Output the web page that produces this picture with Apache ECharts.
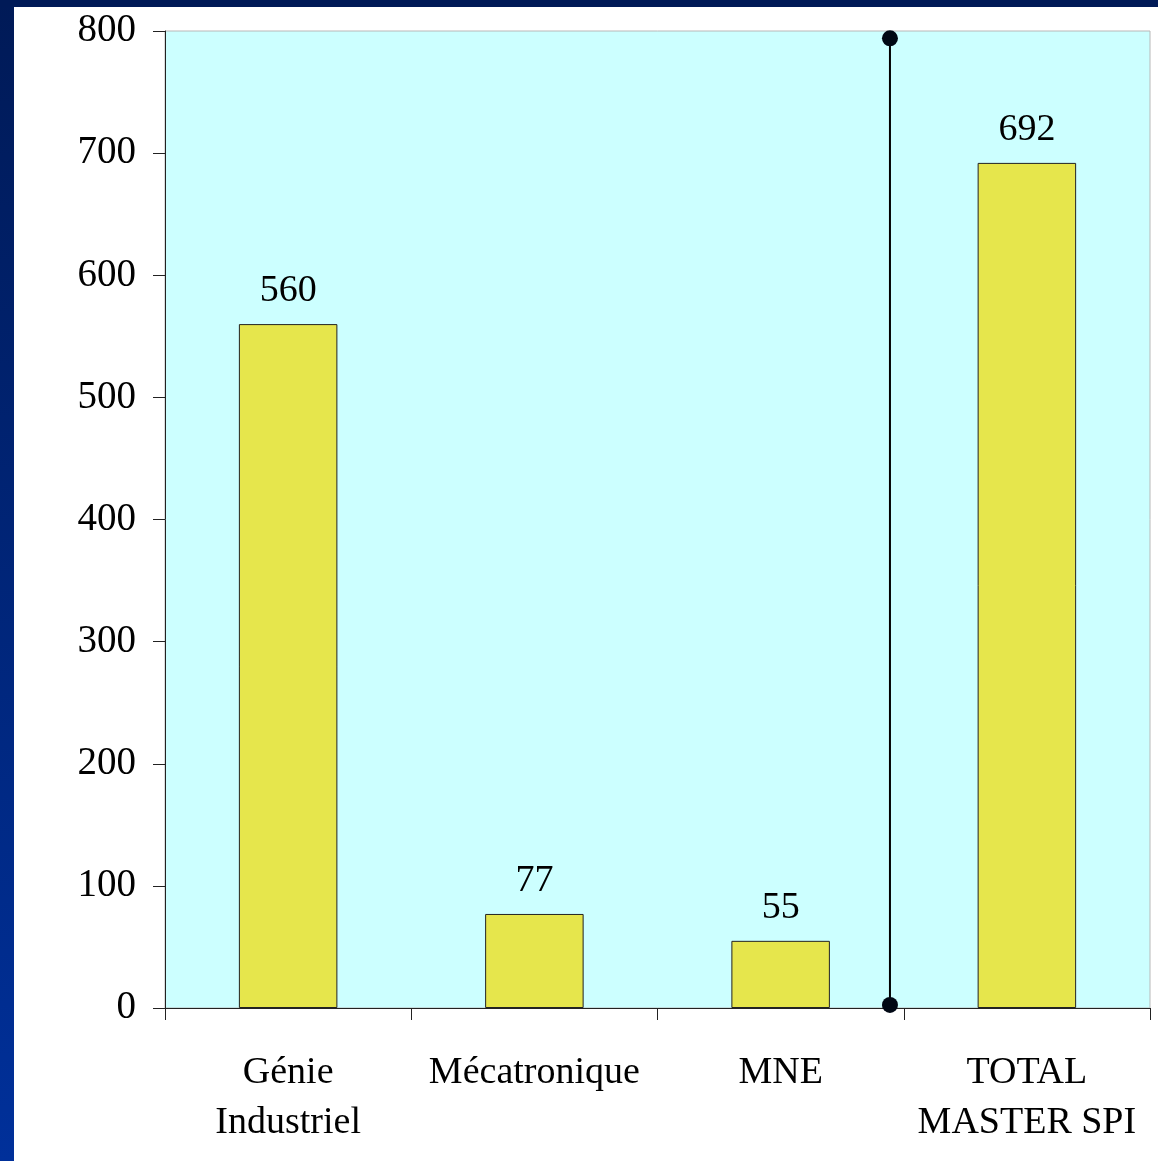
<!DOCTYPE html>
<html><head><meta charset="utf-8">
<script src="https://cdn.jsdelivr.net/npm/echarts@6/dist/echarts.min.js"></script>
<style>
html,body{margin:0;padding:0;width:1158px;height:1161px;overflow:hidden;}
body{background:linear-gradient(to bottom,#001a57 0%,#00309a 100%);position:relative;}
#top{position:absolute;left:0;top:0;width:1158px;height:7px;background:#001a57;}
#chart{position:absolute;left:14px;top:7px;width:1144px;height:1154px;background:#fff;}
</style></head>
<body><div id="top"></div><div id="chart"></div>
<script>
const categories = ['Génie\nIndustriel', 'Mécatronique', 'MNE', 'TOTAL\nMASTER SPI'];
const values = [560, 77, 55, 692];
const yTicks = [0, 100, 200, 300, 400, 500, 600, 700, 800];
// separator line between the three programmes and the total (in category-band units)
const separatorX = [2.944, 2.944];
const separatorY = [794, 2.5];

const font = 'Liberation Serif, Times New Roman, serif';
const chart = echarts.init(document.getElementById('chart'));
chart.setOption({
  animation: false,
  grid: {left: 151, top: 24, right: 8, bottom: 153, show: true,
         backgroundColor: '#CCFFFF', borderColor: '#b8b8b8', borderWidth: 1},
  xAxis: [{
    type: 'category', data: categories, boundaryGap: true,
    axisLine: {show: true, lineStyle: {color: '#222', width: 1}},
    axisTick: {show: true, length: 12, alignWithLabel: false, lineStyle: {color: '#222'}},
    axisLabel: {color: '#000', fontFamily: font, fontSize: 38, lineHeight: 50, margin: 40, interval: 0},
    splitLine: {show: false}
  }, {
    type: 'value', min: 0, max: 4, show: false
  }],
  yAxis: {
    type: 'value', min: yTicks[0], max: yTicks[yTicks.length - 1], interval: 100,
    axisLine: {show: true, lineStyle: {color: '#222', width: 1}},
    axisTick: {show: true, length: 12, lineStyle: {color: '#222'}},
    axisLabel: {color: '#000', fontFamily: font, fontSize: 39, margin: 29, padding: [6, 0, 0, 0]},
    splitLine: {show: false}
  },
  series: [{
    type: 'bar', data: values, barWidth: '40%', barGap: 0,
    itemStyle: {color: '#E6E64C', borderColor: '#222', borderWidth: 1},
    label: {show: true, position: 'top', distance: 14, color: '#000', fontFamily: font, fontSize: 38}
  }, {
    type: 'line', xAxisIndex: 1,
    data: separatorX.map((x, i) => [x, separatorY[i]]),
    symbol: 'circle', symbolSize: 16,
    lineStyle: {color: '#000', width: 2},
    itemStyle: {color: '#000814'},
    z: 5
  }]
});
</script></body></html>
